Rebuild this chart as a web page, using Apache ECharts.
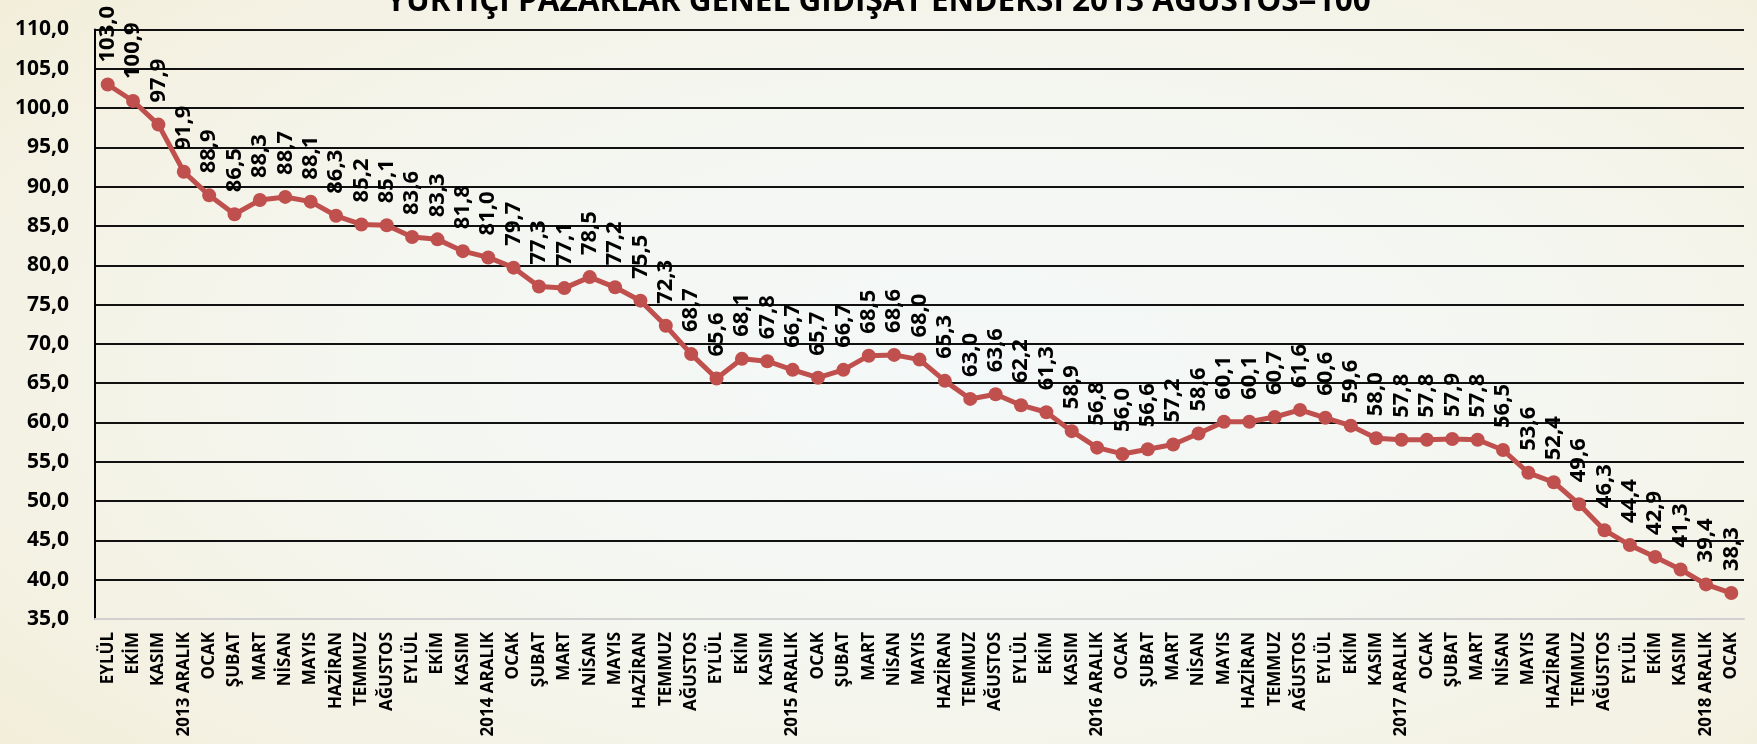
<!DOCTYPE html>
<html>
<head>
<meta charset="utf-8">
<script src="https://cdn.jsdelivr.net/npm/echarts@6/dist/echarts.min.js"></script>
<style>
html,body{margin:0;padding:0;width:1757px;height:744px;overflow:hidden;}
body{background:radial-gradient(ellipse 75% 85% at 55% 50%, #F3F8F8 0%, #F4F6F0 45%, #F4F1E2 80%, #F1ECD5 100%);}
#chart{width:1757px;height:744px;}
</style>
</head>
<body>
<div id="chart"></div>
<script>
const titleText = 'YURTİÇİ PAZARLAR GENEL GİDİŞAT ENDEKSİ 2013 AĞUSTOS=100';
const categories = [
  'EYLÜL','EKİM','KASIM','2013 ARALIK',
  'OCAK','ŞUBAT','MART','NİSAN','MAYIS','HAZİRAN','TEMMUZ','AĞUSTOS','EYLÜL','EKİM','KASIM','2014 ARALIK',
  'OCAK','ŞUBAT','MART','NİSAN','MAYIS','HAZİRAN','TEMMUZ','AĞUSTOS','EYLÜL','EKİM','KASIM','2015 ARALIK',
  'OCAK','ŞUBAT','MART','NİSAN','MAYIS','HAZİRAN','TEMMUZ','AĞUSTOS','EYLÜL','EKİM','KASIM','2016 ARALIK',
  'OCAK','ŞUBAT','MART','NİSAN','MAYIS','HAZİRAN','TEMMUZ','AĞUSTOS','EYLÜL','EKİM','KASIM','2017 ARALIK',
  'OCAK','ŞUBAT','MART','NİSAN','MAYIS','HAZİRAN','TEMMUZ','AĞUSTOS','EYLÜL','EKİM','KASIM','2018 ARALIK',
  'OCAK'
];
const indexValues = [
  103.0,100.9,97.9,91.9,
  88.9,86.5,88.3,88.7,88.1,86.3,85.2,85.1,83.6,83.3,81.8,81.0,
  79.7,77.3,77.1,78.5,77.2,75.5,72.3,68.7,65.6,68.1,67.8,66.7,
  65.7,66.7,68.5,68.6,68.0,65.3,63.0,63.6,62.2,61.3,58.9,56.8,
  56.0,56.6,57.2,58.6,60.1,60.1,60.7,61.6,60.6,59.6,58.0,57.8,
  57.8,57.9,57.8,56.5,53.6,52.4,49.6,46.3,44.4,42.9,41.3,39.4,
  38.3
];
const yMin = 35, yMax = 110, yStep = 5;

const FONT = 'Open Sans';
const fmt = v => v.toFixed(1).replace('.', ',');
const chart = echarts.init(document.getElementById('chart'), null, {renderer:'canvas'});
chart.setOption({
  backgroundColor: 'transparent',
  animation: false,
  textStyle: {fontFamily: FONT, fontWeight: 'bold', color: '#000'},
  title: {
    text: titleText,
    left: 'center',
    top: -19,
    textStyle: {fontFamily: FONT, fontWeight: 'bold', fontSize: 31.5, color: '#000'}
  },
  grid: {left: 95, right: 13, top: 29.5, bottom: 125, containLabel: false},
  xAxis: {
    type: 'category',
    data: categories,
    boundaryGap: true,
    axisLine: {show: true, lineStyle: {color: '#D0D0D0', width: 2}},
    axisTick: {show: false},
    axisLabel: {
      interval: 0, rotate: 90, margin: 13,
      fontFamily: FONT, fontWeight: 'bold', fontSize: 17, color: '#000'
    },
    splitLine: {show: false}
  },
  yAxis: {
    type: 'value',
    min: yMin, max: yMax, interval: yStep,
    axisLine: {show: true, lineStyle: {color: '#000', width: 2}},
    axisTick: {show: false},
    axisLabel: {
      margin: 26, formatter: v => fmt(v),
      fontFamily: FONT, fontWeight: 'bold', fontSize: 21, color: '#000'
    },
    splitLine: {show: true, showMinLine: false, lineStyle: {color: '#111', width: 2}}
  },
  series: [{
    type: 'line',
    data: indexValues,
    symbol: 'circle',
    symbolSize: 14,
    lineStyle: {color: '#C0504D', width: 5},
    itemStyle: {color: '#C0504D'},
    label: {
      show: true,
      position: 'top',
      distance: 15,
      rotate: 90,
      align: 'left',
      verticalAlign: 'middle',
      formatter: p => fmt(p.value),
      fontFamily: FONT, fontWeight: 'bold', fontSize: 22, color: '#000'
    },
    labelLayout: {hideOverlap: false}
  }]
});
</script>
</body>
</html>
